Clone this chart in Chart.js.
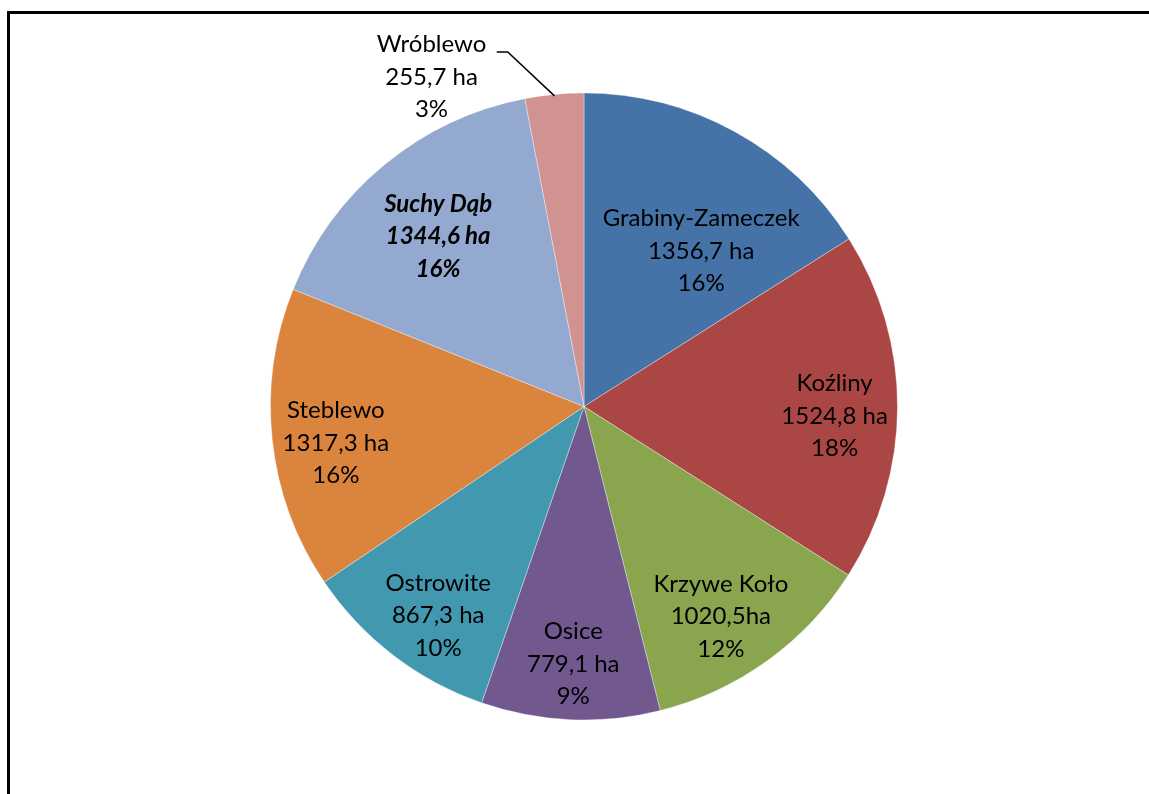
<!DOCTYPE html>
<html>
<head>
<meta charset="utf-8">
<script src="https://cdn.jsdelivr.net/npm/chart.js@4.4.1/dist/chart.umd.min.js"></script>
<style>
  html, body { margin: 0; padding: 0; background: #fff; }
  #wrap { width: 1149px; height: 794px; position: relative; }
</style>
</head>
<body>
<div id="wrap"><canvas id="c" width="1149" height="794"></canvas></div>
<script>
// ---- data ----
const categories = ['Grabiny-Zameczek', 'Koźliny', 'Krzywe Koło', 'Osice', 'Ostrowite', 'Steblewo', 'Suchy Dąb', 'Wróblewo'];
const areaHa = [1356.7, 1524.8, 1020.5, 779.1, 867.3, 1317.3, 1344.6, 255.7];
const unitSuffix = [' ha', ' ha', 'ha', ' ha', ' ha', ' ha', ' ha', ' ha'];
const sliceColors = ['#4572A7', '#AA4643', '#89A54E', '#71588F', '#4198AF', '#DB843D', '#93A9CF', '#D19392'];

// label placement (angle offset from slice middle in degrees, radius as fraction of pie radius)
const labelPlacement = [
  { da: 8.15, rf: 0.621 },
  { da: 2.1, rf: 0.80 },
  { da: 2.7, rf: 0.80 },
  { da: -0.1, rf: 0.822 },
  { da: -2.6, rf: 0.813 },
  { da: -2.3, rf: 0.80 },
  { da: -1.2, rf: 0.714 },
  { da: -19.4, rf: 1.158, leader: { da: -6.7, rf: 1.157, tail: 11 } }
];
const labelFontStyle = ['', '', '', '', '', '', 'italic bold ', '', ''];

const total = areaHa.reduce((a, b) => a + b, 0);
const fmt = v => v.toFixed(1).replace('.', ',');

const framePlugin = {
  id: 'frame',
  beforeDraw(chart) {
    const ctx = chart.ctx;
    ctx.save();
    ctx.fillStyle = '#fff';
    ctx.fillRect(0, 0, chart.width, chart.height);
    ctx.fillStyle = '#000';
    ctx.fillRect(7, 11, 3, chart.height - 11);
    ctx.fillRect(7, 11, chart.width - 7, 3);
    ctx.restore();
  }
};

const labelPlugin = {
  id: 'sliceLabels',
  afterDatasetsDraw(chart) {
    const ctx = chart.ctx;
    const meta = chart.getDatasetMeta(0);
    const lineH = 32.5;
    ctx.save();
    ctx.textAlign = 'center';
    ctx.textBaseline = 'middle';
    ctx.fillStyle = '#000';
    meta.data.forEach((arc, i) => {
      const p = arc.getProps(['x', 'y', 'startAngle', 'endAngle', 'outerRadius'], true);
      const mid = (p.startAngle + p.endAngle) / 2;
      const pl = labelPlacement[i];
      const a = mid + pl.da * Math.PI / 180;
      const r = pl.rf * p.outerRadius;
      const cx = p.x + Math.cos(a) * r;
      const cy = p.y + Math.sin(a) * r;
      if (pl.leader) {
        const la = mid + pl.leader.da * Math.PI / 180;
        const lr = pl.leader.rf * p.outerRadius;
        const ex = p.x + Math.cos(la) * lr;
        const ey = p.y + Math.sin(la) * lr;
        ctx.beginPath();
        ctx.strokeStyle = '#000';
        ctx.lineWidth = 1.5;
        ctx.moveTo(p.x + Math.cos(mid) * (p.outerRadius - 1.5), p.y + Math.sin(mid) * (p.outerRadius - 1.5));
        ctx.lineTo(ex, ey);
        ctx.lineTo(ex - pl.leader.tail, ey);
        ctx.stroke();
      }
      const lines = [
        categories[i],
        fmt(areaHa[i]) + unitSuffix[i],
        Math.round(areaHa[i] / total * 100) + '%'
      ];
      ctx.font = (labelFontStyle[i] || '') + '24px Lato, Carlito, sans-serif';
      lines.forEach((t, k) => {
        ctx.fillText(t, cx, cy + (k - 1) * lineH);
      });
    });
    ctx.restore();
  }
};

new Chart(document.getElementById('c'), {
  type: 'pie',
  data: {
    labels: categories,
    datasets: [{
      data: areaHa,
      backgroundColor: sliceColors,
      borderColor: 'rgba(255,255,255,0.35)',
      borderWidth: 1
    }]
  },
  options: {
    responsive: false,
    animation: false,
    radius: 313.5,
    layout: { padding: { left: 19, top: 19, right: 0, bottom: 0 } },
    plugins: {
      legend: { display: false },
      tooltip: { enabled: false },
      title: { display: false }
    }
  },
  plugins: [framePlugin, labelPlugin]
});
</script>
</body>
</html>
